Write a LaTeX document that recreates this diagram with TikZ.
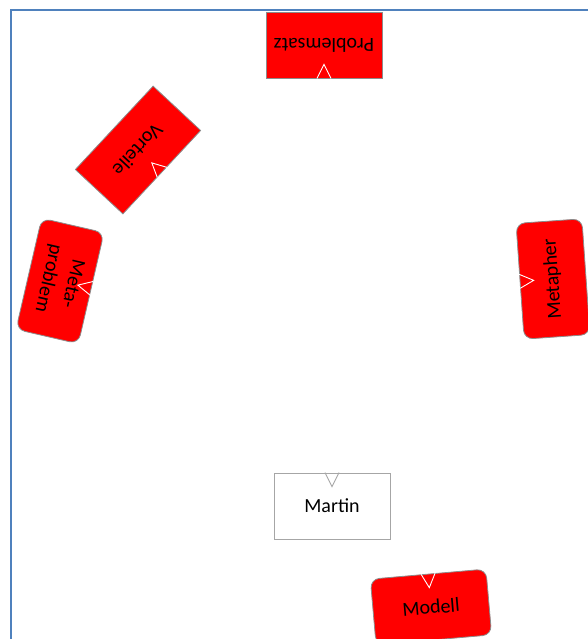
\documentclass[tikz,border=0pt]{standalone}
\usepackage{fontspec}
\setmainfont{Carlito}
\usetikzlibrary{calc}
\definecolor{framecol}{HTML}{4F81BD}
\definecolor{boxborder}{HTML}{8C8C8C}
\definecolor{martinborder}{HTML}{A6A6A6}
\newcommand\boxnotch[2]{%
  \draw[#2, line width=0.9pt] ($(#1.north)!7pt!(#1.north west)$) -- ($(#1.north)!14pt!(#1.south)$) -- ($(#1.north)!7pt!(#1.north east)$);}
\begin{document}
\begin{tikzpicture}[x=1pt,y=1pt,
  box/.style={draw=boxborder, line width=0.8pt, fill=red, minimum width=116pt, minimum height=66pt,
    inner sep=2pt, font=\fontsize{20}{25}\selectfont, align=center},
  roundbox/.style={box, rounded corners=9pt},
  framestyle/.style={draw=framecol, line width=2pt}
]
\useasboundingbox (0,0) rectangle (588,-639);
\draw[framestyle] (11,-641) -- (11,-10) -- (590,-10);

\node[box, rotate=180] (ps) at (324,-45) {Problemsatz};
\node[box, rotate=227, minimum width=114pt, minimum height=65pt] (vo) at (138,-150) {Vorteile};
\node[roundbox, rotate=-103, minimum width=114pt, minimum height=64pt] (mp) at (60,-281) {Meta-\\problem};
\node[roundbox, rotate=94] (me) at (553,-279) {Metapher};
\node[box, fill=white, draw=martinborder] (ma) at (332,-506) {Martin};
\node[roundbox, rotate=5] (mo) at (431,-607) {Modell};

\boxnotch{ps}{white}
\boxnotch{vo}{white}
\boxnotch{mp}{white}
\boxnotch{me}{white}
\boxnotch{mo}{white}
\boxnotch{ma}{martinborder}
\end{tikzpicture}
\end{document}
